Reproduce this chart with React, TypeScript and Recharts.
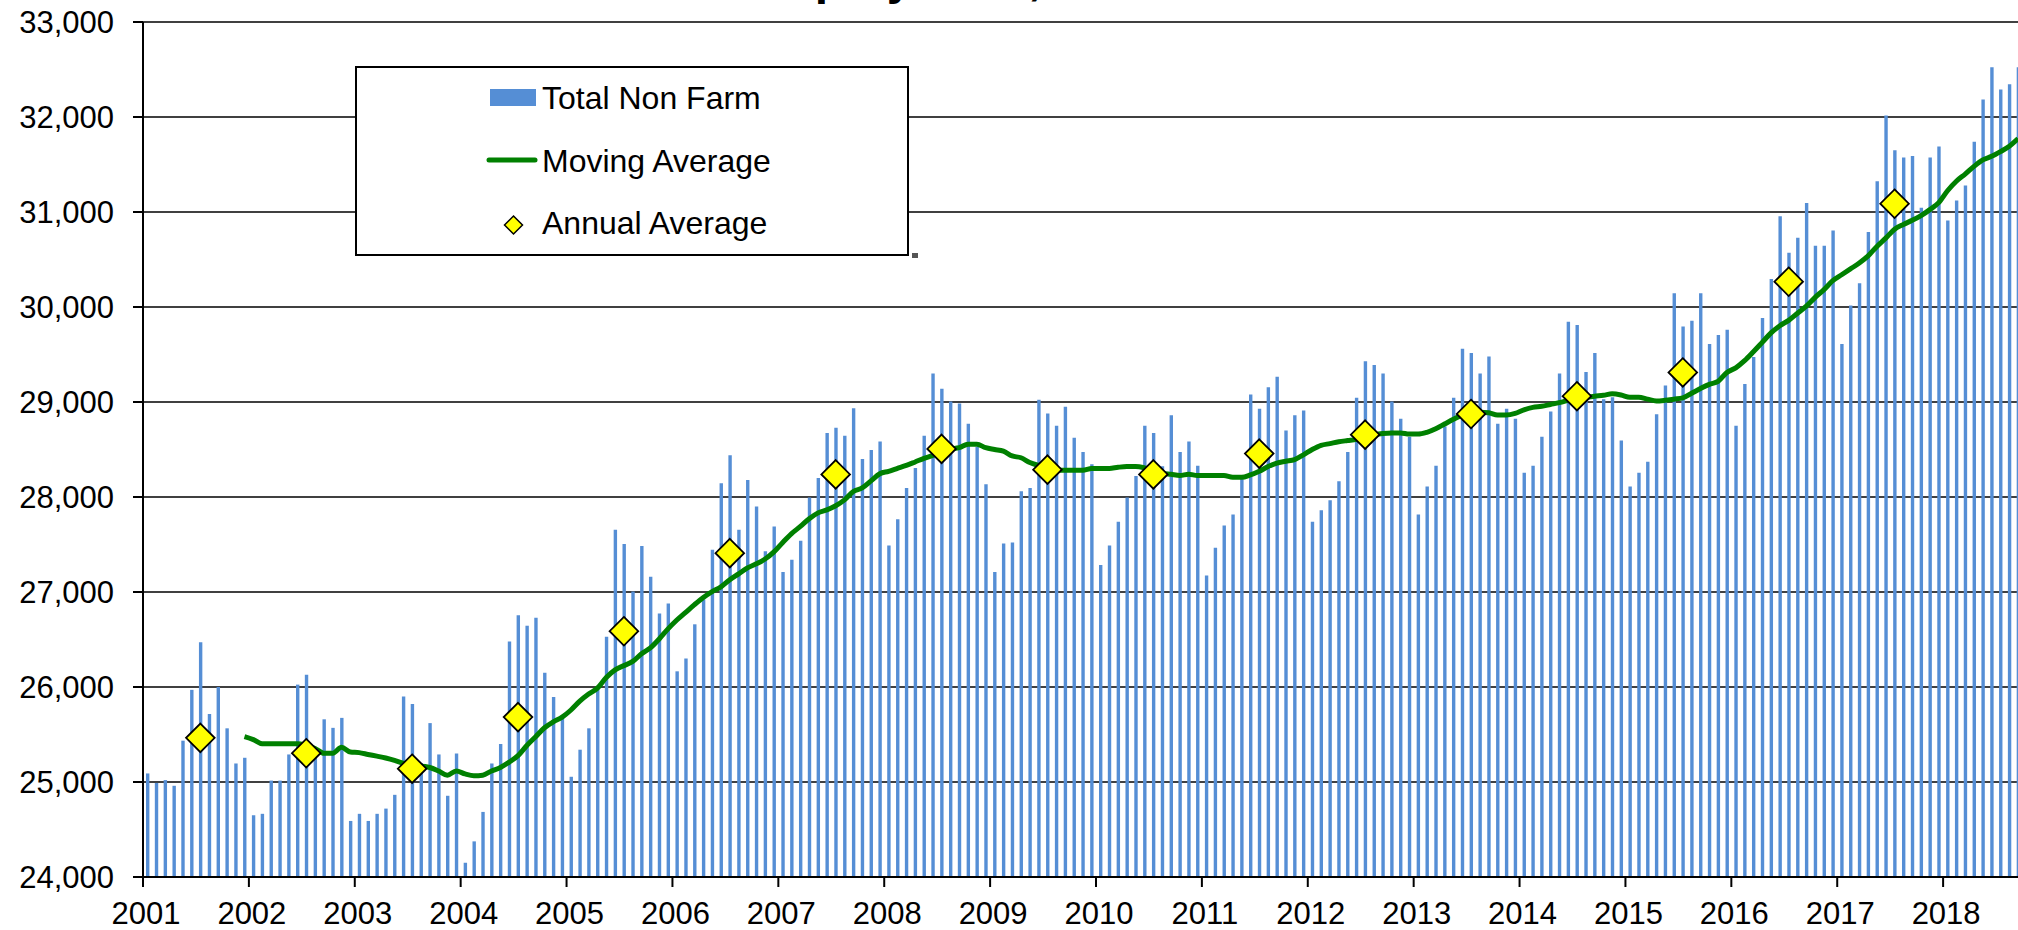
import { ComposedChart, Bar, Line, XAxis, YAxis, CartesianGrid } from "recharts"

// tick labels
const years = [2001, 2002, 2003, 2004, 2005, 2006, 2007, 2008, 2009, 2010, 2011, 2012, 2013, 2014, 2015, 2016, 2017, 2018]
const yTicks = [24000, 25000, 26000, 27000, 28000, 29000, 30000, 31000, 32000, 33000]

// monthly totals, Jan 2001 .. Sep 2018
const totalNonFarm = [
  25090, 24990, 25020, 24960, 25435, 25970, 26470, 25715, 26000, 25565, 25195, 25255,
  24650, 24665, 25015, 25015, 25290, 26025, 26130, 25300, 25660, 25570, 25675, 24590,
  24665, 24590, 24665, 24720, 24865, 25900, 25820, 25200, 25620, 25290, 24855, 25300,
  24150, 24375, 24685, 25195, 25400, 26480, 26755, 26645, 26730, 26150, 25895, 25700,
  25055, 25340, 25565, 25975, 26530, 27655, 27505, 27005, 27485, 27160, 26775, 26880,
  26165, 26300, 26660, 26920, 27445, 28145, 28440, 27655, 28180, 27900, 27430, 27690,
  27210, 27340, 27540, 27995, 28200, 28675, 28730, 28645, 28935, 28400, 28495, 28585,
  27490, 27765, 28095, 28305, 28645, 29300, 29140, 29005, 28985, 28770, 28530, 28135,
  27210, 27510, 27520, 28060, 28095, 29025, 28880, 28750, 28950, 28625, 28475, 28345,
  27285, 27490, 27740, 27995, 28220, 28750, 28675, 28325, 28860, 28475, 28585, 28330,
  27175, 27465, 27700, 27815, 28220, 29080, 28930, 29155, 29265, 28700, 28860, 28910,
  27740, 27860, 27965, 28165, 28475, 29045, 29430, 29390, 29300, 29005, 28825, 28635,
  27815, 28110, 28330, 28745, 29045, 29560, 29515, 29300, 29480, 28770, 28930, 28825,
  28255, 28330, 28635, 28900, 29300, 29845, 29810, 29315, 29515, 29030, 29050, 28595,
  28110, 28255, 28370, 28870, 29175, 30145, 29795, 29855, 30145, 29610, 29705, 29760,
  28750, 29190, 29475, 29885, 30295, 30955, 30570, 30730, 31095, 30645, 30645, 30805,
  29610, 30015, 30250, 30790, 31325, 32015, 31650, 31575, 31590, 31045, 31575, 31690,
  30910, 31120, 31280, 31740, 32185, 32525, 32290, 32345, 32525,
]

// 12 month moving average, from Dec 2001
const MA_START = 11
const movingAverage = [
  25477,
  25446, 25402, 25402, 25402, 25402, 25402, 25384, 25353, 25303, 25303, 25365, 25315,
  25309, 25290, 25272, 25253, 25228, 25197, 25160, 25166, 25153, 25116, 25072, 25116,
  25085, 25066, 25072, 25116, 25153, 25209, 25278, 25384, 25477, 25571, 25633, 25683,
  25758, 25851, 25926, 25988, 26100, 26181, 26225, 26269, 26350, 26412, 26506, 26612,
  26705, 26786, 26867, 26942, 27004, 27054, 27129, 27191, 27254, 27297, 27347, 27422,
  27522, 27615, 27690, 27771, 27833, 27864, 27908, 27970, 28058, 28095, 28170, 28245,
  28270, 28301, 28332, 28369, 28407, 28438, 28482, 28506, 28519, 28556, 28556, 28519,
  28500, 28482, 28432, 28413, 28363, 28332, 28307, 28282, 28282, 28282, 28282, 28301,
  28301, 28301, 28313, 28320, 28320, 28307, 28282, 28251, 28239, 28226, 28239, 28226,
  28226, 28226, 28226, 28207, 28207, 28232, 28270, 28320, 28357, 28376, 28394, 28444,
  28500, 28544, 28562, 28581, 28594, 28606, 28637, 28656, 28669, 28675, 28675, 28662,
  28662, 28681, 28718, 28768, 28818, 28862, 28887, 28893, 28887, 28862, 28862, 28880,
  28918, 28943, 28955, 28974, 28993, 29018, 29043, 29049, 29061, 29070, 29086, 29074,
  29049, 29049, 29030, 29011, 29018, 29030, 29043, 29092, 29142, 29186, 29217, 29311,
  29360, 29435, 29529, 29628, 29728, 29803, 29859, 29934, 30009, 30102, 30183, 30277,
  30339, 30401, 30463, 30538, 30638, 30725, 30819, 30869, 30912, 30962, 31025, 31099,
  31224, 31324, 31399, 31480, 31548, 31586, 31636, 31692, 31773,
]

// annual averages, plotted at July of each year
const annualAverage = [
  25465, 25303, 25140, 25683, 26587, 27409, 28238, 28506, 28288,
  28238, 28457, 28656, 28874, 29061, 29311, 30266, 31087,
]

const rows = totalNonFarm.map((v, i) => ({
  month: i + 0.5,
  total: v,
  moving: i >= MA_START ? movingAverage[i - MA_START] : null,
  annual: i % 12 === 6 && annualAverage[(i - 6) / 12] != null ? annualAverage[(i - 6) / 12] : null,
}))

const FONT = '"Liberation Sans", Arial, sans-serif'
const BLUE = "#558ED5"
const GREEN = "#008000"

function Diamond(props: any) {
  const { cx, cy, payload, index } = props
  if (payload == null || payload.annual == null || cx == null || cy == null) return <g key={index} />
  const r = 14.3
  return (
    <polygon
      key={index}
      points={`${cx},${cy - r} ${cx + r},${cy} ${cx},${cy + r} ${cx - r},${cy}`}
      fill="#FFFF00"
      stroke="#000"
      strokeWidth={1.8}
    />
  )
}

function LegendBox() {
  return (
    <svg width={570} height={200} style={{ position: "absolute", left: 355, top: 66, overflow: "visible" }}>
      <rect x={1} y={1} width={552} height={188} fill="#fff" stroke="#000" strokeWidth={2} />
      <rect x={557} y={187} width={6} height={5} fill="#555" />
      <rect x={135} y={23} width={46} height={17} fill={BLUE} />
      <text x={187} y={43} fontSize={32} fontFamily={FONT} fill="#000">Total Non Farm</text>
      <line x1={134} x2={180} y1={94} y2={94} stroke={GREEN} strokeWidth={5} strokeLinecap="round" />
      <text x={187} y={105.7} fontSize={32} fontFamily={FONT} fill="#000">Moving Average</text>
      <polygon points="158.5,150 167.5,159 158.5,168 149.5,159" fill="#FFFF00" stroke="#000" strokeWidth={1.5} />
      <text x={187} y={168} fontSize={32} fontFamily={FONT} fill="#000">Annual Average</text>
    </svg>
  )
}

export default function App() {
  return (
    <div
      style={{
        position: "absolute",
        left: 0,
        top: 0,
        width: 2018,
        height: 930,
        overflow: "hidden",
        background: "#fff",
        fontFamily: FONT,
      }}
    >
      <ComposedChart width={2060} height={930} data={rows} margin={{ top: 22, right: 11, left: 0, bottom: 0 }}>
        <CartesianGrid vertical={false} stroke="#000" strokeWidth={1.6} />
        <XAxis
          type="number"
          dataKey="month"
          domain={[0, 216]}
          ticks={years.map((_, k) => k * 12)}
          tickFormatter={(v: number) => String(years[Math.round(v / 12)])}
          interval={0}
          height={53}
          tickSize={10}
          tickMargin={15}
          axisLine={{ stroke: "#000", strokeWidth: 2 }}
          tickLine={{ stroke: "#000", strokeWidth: 2 }}
          tick={{ fill: "#000", fontSize: 31, fontFamily: FONT, dx: 3 }}
          allowDataOverflow
        />
        <YAxis
          type="number"
          domain={[24000, 33000]}
          ticks={yTicks}
          tickFormatter={(v: number) => v.toLocaleString("en-US")}
          interval={0}
          width={143}
          tickSize={10}
          tickMargin={19}
          axisLine={{ stroke: "#000", strokeWidth: 2 }}
          tickLine={{ stroke: "#000", strokeWidth: 2 }}
          tick={{ fill: "#000", fontSize: 31, fontFamily: FONT }}
          allowDataOverflow
        />
        <Bar dataKey="total" fill={BLUE} barSize={3.4} isAnimationActive={false} />
        <Line
          dataKey="moving"
          type="monotone"
          stroke={GREEN}
          strokeWidth={5}
          dot={false}
          activeDot={false}
          isAnimationActive={false}
        />
        <Line
          dataKey="annual"
          stroke="none"
          dot={Diamond}
          activeDot={false}
          isAnimationActive={false}
        />
      </ComposedChart>
      <LegendBox />
      <svg width={2018} height={30} style={{ position: "absolute", left: 0, top: 0 }}>
        <text x={405} y={-6} fontSize={48} fontWeight="bold" fontFamily={FONT} fill="#000">
          Total Nonfarm Employment, 2001 - 2018
        </text>
      </svg>
    </div>
  )
}
